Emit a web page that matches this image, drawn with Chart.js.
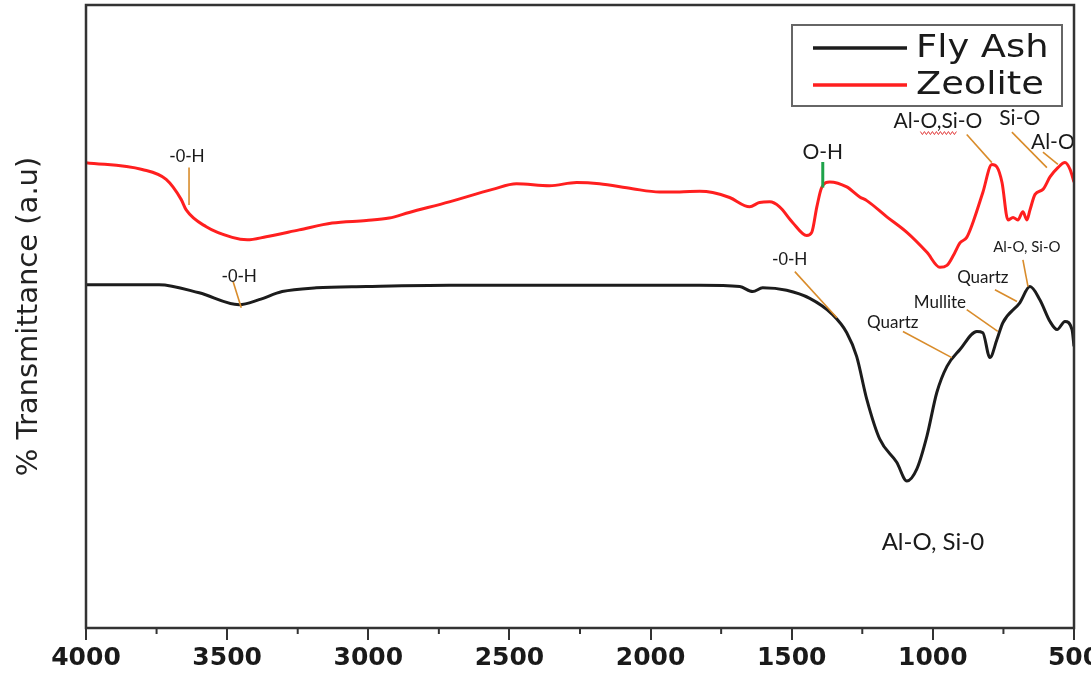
<!DOCTYPE html>
<html>
<head>
<meta charset="utf-8">
<script src="https://cdn.jsdelivr.net/npm/chart.js@4.4.1/dist/chart.umd.min.js"></script>
<style>
  html, body { margin: 0; padding: 0; background: #fff; }
  #wrap { width: 1091px; height: 674px; }
</style>
</head>
<body>
<div id="wrap"><canvas id="ftir"></canvas></div>
<script>
// series
const seriesNames = ["Fly Ash", "Zeolite"];
const seriesColors = ["#1c1c1c", "#ff1f1f"];

// wavenumber (cm-1) and transmittance (a.u)
const flyAshWn = [4000, 3741, 3599, 3457, 3387, 3305, 3184, 3007, 2713, 2358, 2004, 1826, 1684, 1638, 1603, 1518, 1436, 1355, 1305, 1270, 1234, 1188, 1128, 1092, 1057, 1021, 986, 950, 904, 844, 823, 798, 773, 752, 692, 656, 621, 585, 560, 532, 507, 500];
const flyAshT = [55.1, 55.1, 53.8, 51.9, 52.7, 54.0, 54.6, 54.8, 55.0, 55.0, 55.0, 55.0, 54.8, 54.0, 54.6, 54.2, 52.9, 50.3, 47.4, 43.6, 36.7, 30.3, 26.6, 23.6, 25.5, 30.8, 37.8, 42.0, 44.7, 47.6, 47.4, 43.4, 46.3, 49.0, 52.2, 54.8, 52.7, 49.2, 47.9, 49.2, 47.9, 45.2];

const zeoliteWn = [4000, 3801, 3716, 3663, 3645, 3574, 3482, 3429, 3362, 3245, 3128, 3007, 2926, 2855, 2713, 2560, 2475, 2358, 2262, 2181, 2064, 1968, 1897, 1826, 1780, 1720, 1649, 1614, 1578, 1543, 1497, 1447, 1429, 1411, 1394, 1365, 1305, 1259, 1234, 1163, 1092, 1021, 975, 950, 925, 904, 880, 858, 823, 791, 773, 755, 734, 716, 699, 681, 667, 656, 638, 610, 585, 557, 532, 514, 500];
const zeoliteT = [74.7, 73.6, 72.0, 68.8, 67.1, 64.4, 62.7, 62.3, 62.8, 63.9, 65.0, 65.4, 65.8, 66.7, 68.4, 70.4, 71.3, 71.0, 71.5, 71.3, 70.5, 70.0, 70.0, 70.1, 69.9, 69.1, 67.6, 68.3, 68.4, 67.6, 65.1, 63.0, 63.5, 67.6, 70.7, 71.6, 70.8, 69.2, 68.6, 66.0, 63.5, 60.3, 57.9, 58.2, 60.0, 61.8, 62.7, 65.1, 69.9, 74.4, 74.0, 71.5, 65.5, 65.9, 65.5, 66.8, 65.5, 67.1, 69.6, 70.4, 72.4, 73.9, 74.7, 73.6, 71.6];

const xMin = 500, xMax = 4000, xStep = 500;
const yMin = 0, yMax = 100;

// band labels (text placed at wavenumber / transmittance)
const bandLabels = [
  { text: "-0-H", wn: 3642, t: 75.6, size: 18, font: "Liberation Sans" },
  { text: "-0-H", wn: 3457, t: 56.4, size: 18, font: "Liberation Sans" },
  { text: "O-H", wn: 1390, t: 76.3, size: 21, font: "Lato" },
  { text: "Al-O,Si-O", wn: 982, t: 81.3, size: 21, font: "Lato", squiggle: ["Al-", "O,Si"] },
  { text: "Si-O", wn: 692, t: 81.9, size: 21, font: "Lato" },
  { text: "Al-O", wn: 575, t: 77.9, size: 21, font: "Lato" },
  { text: "Al-O, Si-O", wn: 667, t: 61.2, size: 15, font: "Lato" },
  { text: "Quartz", wn: 823, t: 56.3, size: 17, font: "Lato" },
  { text: "Mullite", wn: 975, t: 52.2, size: 17, font: "Lato" },
  { text: "Quartz", wn: 1142, t: 49.0, size: 17, font: "Lato" },
  { text: "-0-H", wn: 1507, t: 59.1, size: 18, font: "Liberation Sans" },
  { text: "Al-O, Si-0", wn: 1000, t: 13.8, size: 24, font: "Lato" }
];

// leader lines, ends given as [wavenumber, transmittance]
const leaders = [
  { from: [3635, 73.9], to: [3635, 67.9], color: "#d98c2b", width: 1.6 },
  { from: [3479, 55.6], to: [3450, 51.4], color: "#d98c2b", width: 1.6 },
  { from: [1390, 74.8], to: [1390, 70.7], color: "#1ea34a", width: 3 },
  { from: [880, 79.2], to: [791, 74.7], color: "#d98c2b", width: 1.6 },
  { from: [720, 79.6], to: [596, 73.9], color: "#d98c2b", width: 1.6 },
  { from: [610, 76.4], to: [557, 74.4], color: "#d98c2b", width: 1.6 },
  { from: [681, 59.1], to: [663, 54.8], color: "#d98c2b", width: 1.6 },
  { from: [780, 54.3], to: [702, 52.4], color: "#d98c2b", width: 1.6 },
  { from: [880, 51.1], to: [770, 47.6], color: "#d98c2b", width: 1.6 },
  { from: [1106, 47.6], to: [933, 43.4], color: "#d98c2b", width: 1.6 },
  { from: [1489, 57.2], to: [1340, 49.8], color: "#d98c2b", width: 1.6 }
];

function toPoints(xs, ys) {
  return xs.map((x, i) => ({ x: x, y: ys[i] }));
}

// frame, minor ticks, band labels and legend box
const decorPlugin = {
  id: "decor",
  afterDatasetsDraw(chart) {
    const ctx = chart.ctx;
    const xs = chart.scales.x, ys = chart.scales.y;
    const a = chart.chartArea;

    ctx.save();
    // leaders
    leaders.forEach(l => {
      ctx.beginPath();
      ctx.strokeStyle = l.color;
      ctx.lineWidth = l.width;
      ctx.moveTo(xs.getPixelForValue(l.from[0]), ys.getPixelForValue(l.from[1]));
      ctx.lineTo(xs.getPixelForValue(l.to[0]), ys.getPixelForValue(l.to[1]));
      ctx.stroke();
    });

    // labels
    ctx.fillStyle = "#1a1a1a";
    ctx.textAlign = "center";
    ctx.textBaseline = "middle";
    bandLabels.forEach(b => {
      ctx.font = b.size + "px '" + b.font + "'";
      const px = xs.getPixelForValue(b.wn), py = ys.getPixelForValue(b.t);
      ctx.fillText(b.text, px, py);
      if (b.squiggle) {
        const w = ctx.measureText(b.text).width;
        const x0 = px - w / 2 + ctx.measureText(b.squiggle[0]).width;
        const x1 = x0 + ctx.measureText(b.squiggle[1]).width;
        const yy = py + b.size * 0.55;
        ctx.beginPath();
        ctx.strokeStyle = "#e23b3b";
        ctx.lineWidth = 1;
        for (let x = x0, k = 0; x <= x1; x += 2, k++) {
          const y = yy + (k % 2 ? 1.5 : -1.5);
          if (k === 0) ctx.moveTo(x, y); else ctx.lineTo(x, y);
        }
        ctx.stroke();
      }
    });

    // frame
    ctx.strokeStyle = "#333";
    ctx.lineWidth = 2.5;
    ctx.strokeRect(a.left, a.top, a.right - a.left, a.bottom - a.top);

    // minor ticks
    ctx.lineWidth = 2;
    for (let v = xMin + xStep / 2; v < xMax; v += xStep) {
      const px = xs.getPixelForValue(v);
      ctx.beginPath();
      ctx.moveTo(px, a.bottom);
      ctx.lineTo(px, a.bottom + 6);
      ctx.stroke();
    }

    // legend
    const lx = 792, ly = 25, lw = 270, lh = 81;
    ctx.fillStyle = "#fff";
    ctx.fillRect(lx, ly, lw, lh);
    ctx.strokeStyle = "#666";
    ctx.lineWidth = 2;
    ctx.strokeRect(lx, ly, lw, lh);
    ctx.textAlign = "left";
    ctx.font = "32px 'DejaVu Sans'";
    seriesNames.forEach((name, i) => {
      const yy = ly + 23 + i * 37;
      ctx.beginPath();
      ctx.strokeStyle = seriesColors[i];
      ctx.lineWidth = 3.5;
      ctx.moveTo(lx + 21, yy);
      ctx.lineTo(lx + 115, yy);
      ctx.stroke();
      ctx.save();
      ctx.translate(lx + 124, yy + 1);
      ctx.scale(1.15, 1);
      ctx.fillStyle = "#1a1a1a";
      ctx.fillText(name, 0, 0);
      ctx.restore();
    });
    ctx.restore();
  }
};

new Chart(document.getElementById("ftir"), {
  type: "line",
  data: {
    datasets: [
      {
        label: seriesNames[0],
        data: toPoints(flyAshWn, flyAshT),
        borderColor: seriesColors[0],
        borderWidth: 3,
        pointRadius: 0,
        cubicInterpolationMode: "monotone"
      },
      {
        label: seriesNames[1],
        data: toPoints(zeoliteWn, zeoliteT),
        borderColor: seriesColors[1],
        borderWidth: 3,
        pointRadius: 0,
        cubicInterpolationMode: "monotone"
      }
    ]
  },
  options: {
    responsive: true,
    maintainAspectRatio: false,
    animation: false,
    layout: { padding: { top: 5, right: 17, left: 0, bottom: 0 } },
    plugins: {
      legend: { display: false },
      tooltip: { enabled: false }
    },
    scales: {
      x: {
        type: "linear",
        reverse: true,
        min: xMin,
        max: xMax,
        border: { display: false },
        grid: { drawOnChartArea: false, tickLength: 12, color: "#333", lineWidth: 2 },
        ticks: {
          stepSize: xStep,
          maxRotation: 0,
          padding: 3,
          color: "#1a1a1a",
          font: { family: "'DejaVu Sans'", size: 25, weight: "bold" },
          callback: v => String(v)
        },
        afterFit(s) { s.height = 46; s.paddingLeft = 0; s.paddingRight = 0; }
      },
      y: {
        min: yMin,
        max: yMax,
        border: { display: false },
        grid: { display: false },
        ticks: { display: false },
        title: {
          display: true,
          text: "% Transmittance (a.u)",
          color: "#222",
          font: { family: "'DejaVu Sans'", size: 29, lineHeight: 2.05 },
          padding: 0
        },
        afterFit(s) { s.width = 86; }
      }
    }
  },
  plugins: [decorPlugin]
});
</script>
</body>
</html>
